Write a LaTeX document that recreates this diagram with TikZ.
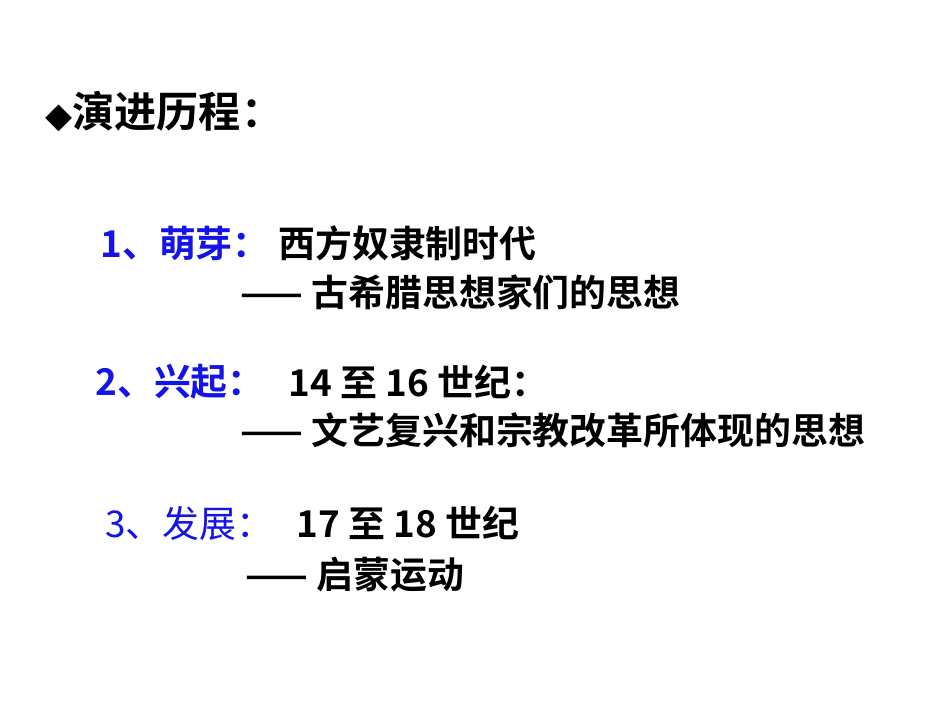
\documentclass[tikz,border=0pt]{standalone}
\usepackage{fontspec}
\setmainfont{Noto Sans CJK SC}[BoldFont={* Bold}]
\newfontfamily\djsym{DejaVu Sans}
\definecolor{myblue}{RGB}{20,20,230}
\begin{document}
\begin{tikzpicture}[x=0.02cm,y=-0.02cm,
  txt/.style={anchor=west,inner sep=0pt,font=\bfseries\fontsize{21pt}{23pt}\selectfont},
  ttl/.style={anchor=west,inner sep=0pt,font=\bfseries\fontsize{24pt}{26pt}\selectfont},
  bl/.style={text=myblue}]
\fill[white] (0,0) rectangle (950,713);
\node[ttl] (t) at (45,112) {{\djsym\fontsize{20pt}{22pt}\selectfont◆}演进历程：};
\node[txt,bl] (a1) at (100,243) {1、萌芽：};
\node[txt] (b1) at (278,243) {西方奴隶制时代};
\node[txt] (c1) at (240,292) {—— 古希腊思想家们的思想};
\node[txt,bl] (a2) at (95,382) {2、兴起：};
\node[txt] (b2) at (288,382) {14 至 16 世纪：};
\node[txt] (c2) at (240,430) {—— 文艺复兴和宗教改革所体现的思想};
\node[txt,bl,font=\fontsize{21pt}{23pt}\selectfont] (a3) at (105,523) {3、发展：};
\node[txt] (b3) at (296,523) {17 至 18 世纪};
\node[txt] (c3) at (245,575) {—— 启蒙运动};
\end{tikzpicture}
\end{document}
